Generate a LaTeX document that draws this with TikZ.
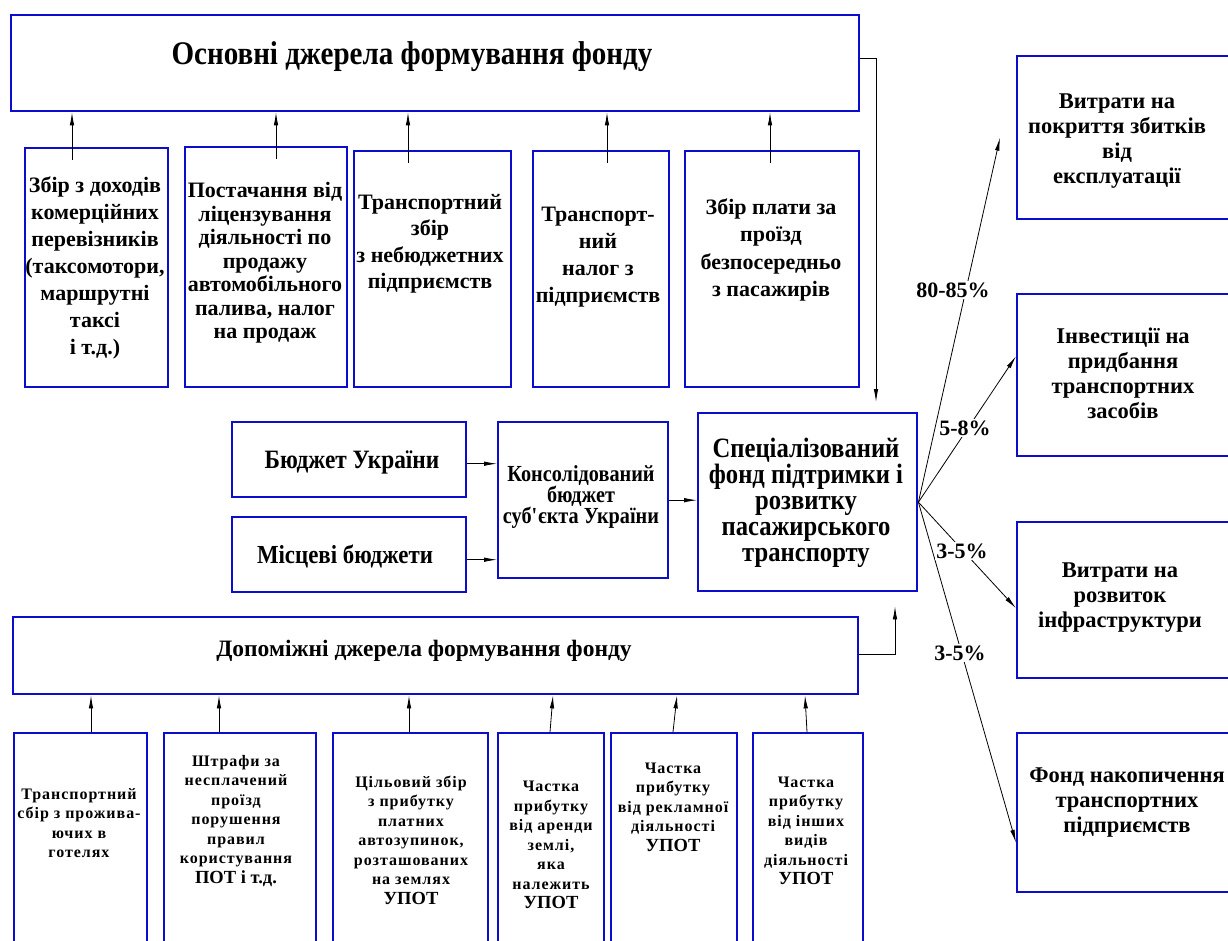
\documentclass[tikz,border=0pt]{standalone}
\usepackage{fontspec}
\setmainfont{Liberation Serif}
\newfontfamily\spc[LetterSpace=6]{Liberation Serif}
\newfontfamily\cnd[FakeStretch=0.88]{Liberation Serif}
\usetikzlibrary{arrows.meta}
\definecolor{boxblue}{RGB}{12,12,204}
\tikzset{
  box/.style={draw=boxblue, line width=2.4pt, fill=white, inner sep=0pt, anchor=north west},
  lbl/.style={align=center, inner sep=0pt},
  arr/.style={draw=black, line width=0.8pt, -{Latex[length=13pt,width=4.5pt]}},
  pct/.style={fill=white, inner sep=1.5pt, font=\fontsize{22}{24}\selectfont\bfseries},
  small/.style={lbl, font=\spc\fontsize{16}{19.5}\selectfont\bfseries},
  rbox/.style={lbl, font=\fontsize{22.5}{25}\selectfont\bfseries},
}
\newcommand{\upot}[1]{{\rmfamily\fontsize{18.5}{19.5}\selectfont #1}}
\begin{document}
\begin{tikzpicture}[x=1pt,y=-1pt]
\path[use as bounding box] (0,0) rectangle (1228,941);
\clip (0,0) rectangle (1228,941);
\fill[white] (0,0) rectangle (1228,941);

% ---------- top block ----------
\node[box, minimum width=848pt, minimum height=96pt] (top) at (10,14) {};
\node[lbl, font=\cnd\fontsize{33}{35}\selectfont\bfseries] (toptxt) at (412,57) {Основні джерела формування фонду};

\node[box, minimum width=143pt, minimum height=239pt] (t1) at (24,147) {};
\node[box, minimum width=162pt, minimum height=240pt] (t2) at (184,146) {};
\node[box, minimum width=157pt, minimum height=236pt] (t3) at (353,150) {};
\node[box, minimum width=136pt, minimum height=236pt] (t4) at (532,150) {};
\node[box, minimum width=174pt, minimum height=236pt] (t5) at (684,150) {};

\node[lbl, font=\fontsize{22}{27}\selectfont\bfseries] (t1t) at (95,268) {Збір з доходів\\комерційних\\перевізників\\(таксомотори,\\маршрутні\\таксі\\і т.д.)};
\node[lbl, font=\fontsize{22}{23.5}\selectfont\bfseries] (t2t) at (265,263) {Постачання від\\ліцензування\\діяльності по\\продажу\\автомобільного\\палива, налог\\на продаж};
\node[lbl, font=\fontsize{22}{26.5}\selectfont\bfseries] (t3t) at (430,244) {Транспортний\\збір\\з небюджетних\\підприємств};
\node[lbl, font=\fontsize{22}{27}\selectfont\bfseries] (t4t) at (598,257) {Транспорт-\\ний\\налог з\\підприємств};
\node[lbl, font=\fontsize{22}{27.5}\selectfont\bfseries] (t5t) at (771,250) {Збір плати за\\проїзд\\безпосередньо\\з пасажирів};

\draw[arr] ([xshift=48pt,yshift=-13pt]t1.north west) coordinate (s1) -- (s1 |- top.south);
\draw[arr] ([xshift=92pt,yshift=-13pt]t2.north west) coordinate (s2) -- (s2 |- top.south);
\draw[arr] ([xshift=55pt,yshift=-13pt]t3.north west) coordinate (s3) -- (s3 |- top.south);
\draw[arr] ([xshift=75pt,yshift=-13pt]t4.north west) coordinate (s4) -- (s4 |- top.south);
\draw[arr] ([xshift=86pt,yshift=-13pt]t5.north west) coordinate (s5) -- (s5 |- top.south);

% ---------- middle ----------
\node[box, minimum width=234pt, minimum height=75pt] (bu) at (231,421) {};
\node[box, minimum width=234pt, minimum height=75pt] (mb) at (231,516) {};
\node[box, minimum width=170pt, minimum height=156pt] (kb) at (497,421) {};
\node[box, minimum width=219pt, minimum height=178pt] (fund) at (697,412) {};

\node[lbl, font=\cnd\fontsize{26.5}{28}\selectfont\bfseries] (butxt) at (352,462) {Бюджет України};
\node[lbl, font=\cnd\fontsize{26}{28}\selectfont\bfseries] (mbtxt) at (345,556) {Місцеві бюджети};
\node[lbl, font=\cnd\fontsize{23}{20}\selectfont\bfseries] (kbtxt) at (581,497) {Консолідований\\бюджет\\суб\textquotesingle єкта України};
\node[lbl, font=\cnd\fontsize{28}{26}\selectfont\bfseries] (fundtxt) at (806,503) {Спеціалізований\\фонд підтримки і\\розвитку\\пасажирського\\транспорту};

\draw[arr] ([yshift=-4pt]bu.east) -- ([yshift=-4pt]bu.east -| kb.west);
\draw[arr] ([yshift=-5pt]mb.east) -- ([yshift=-5pt]mb.east -| kb.west);
\draw[arr] (kb.east) -- (kb.east -| fund.west);

% feed from top block
\coordinate (c1) at (876,0);
\draw[arr, shorten >=10pt] ([yshift=5pt]top.east) -| (c1 |- fund.north);

% ---------- bottom block ----------
\node[box, minimum width=845pt, minimum height=77pt] (dop) at (12,616) {};
\node[lbl, font=\fontsize{23.5}{25}\selectfont\bfseries] (doptxt) at (424,651) {Допоміжні джерела формування фонду};
\coordinate (c2) at (895,0);
\draw[arr, shorten >=14pt] ([yshift=1pt]dop.east) -| (c2 |- fund.south);

\node[box, minimum width=133pt, minimum height=240pt] (b1) at (13,732) {};
\node[box, minimum width=152pt, minimum height=240pt] (b2) at (163,732) {};
\node[box, minimum width=155pt, minimum height=240pt] (b3) at (332,732) {};
\node[box, minimum width=106pt, minimum height=240pt] (b4) at (497,732) {};
\node[box, minimum width=126pt, minimum height=240pt] (b5) at (610,732) {};
\node[box, minimum width=110pt, minimum height=240pt] (b6) at (752,732) {};

\node[small] (b1t) at (79,823) {Транспортний\\сбір з прожива-\\ючих в\\готелях};
\node[small] (b2t) at (236,821) {Штрафи за\\несплачений\\проїзд\\порушення\\правил\\користування\\\upot{ПОТ і т.д.}};
\node[small] (b3t) at (411,840) {Цільовий збір\\з прибутку\\платних\\автозупинок,\\розташованих\\на землях\\\upot{УПОТ}};
\node[small] (b4t) at (551,845) {Частка\\прибутку\\від аренди\\землі,\\яка\\належить\\\upot{УПОТ}};
\node[small] (b5t) at (673,807) {Частка\\прибутку\\від рекламної\\діяльності\\\upot{УПОТ}};
\node[small] (b6t) at (806,831) {Частка\\прибутку\\від інших\\видів\\діяльності\\\upot{УПОТ}};

\draw[arr] ([xshift=78pt]b1.north west) -- ([xshift=79pt]dop.south west);
\draw[arr] ([xshift=56pt]b2.north west) -- ([xshift=207pt]dop.south west);
\draw[arr] ([xshift=77pt]b3.north west) -- ([xshift=397pt]dop.south west);
\draw[arr] ([xshift=53pt]b4.north west) -- ([xshift=541pt]dop.south west);
\draw[arr] ([xshift=63pt]b5.north west) -- ([xshift=665pt]dop.south west);
\draw[arr] ([xshift=55pt]b6.north west) -- ([xshift=793pt]dop.south west);

% ---------- right block ----------
\node[box, minimum width=240pt, minimum height=163pt] (r1) at (1016,55) {};
\node[box, minimum width=240pt, minimum height=162pt] (r2) at (1016,293) {};
\node[box, minimum width=240pt, minimum height=156pt] (r3) at (1016,521) {};
\node[box, minimum width=240pt, minimum height=159pt] (r4) at (1016,732) {};

\node[rbox] (r1t) at (1117,141) {Витрати на\\покриття збитків\\від\\експлуатації};
\node[rbox] (r2t) at (1123,373) {Інвестиції на\\придбання\\транспортних\\засобів};
\node[rbox] (r3t) at (1120,598) {Витрати на\\розвиток\\інфраструктури};
\node[rbox] (r4t) at (1127,803) {Фонд накопичення\\транспортних\\підприємств};

\draw[arr] (fund.east) -- ([xshift=-16pt]r1.west);
\draw[arr] (fund.east) -- ([yshift=19pt]r2.west);
\draw[arr] (fund.east) -- ([yshift=-8pt]r3.west);
\draw[arr] (fund.east) -- ([yshift=-30pt]r4.west);

\node[pct] (p1) at (953,290) {80-85\%};
\node[pct] (p2) at (965,428) {5-8\%};
\node[pct] (p3) at (962,551) {3-5\%};
\node[pct] (p4) at (960,653) {3-5\%};
\end{tikzpicture}
\end{document}
